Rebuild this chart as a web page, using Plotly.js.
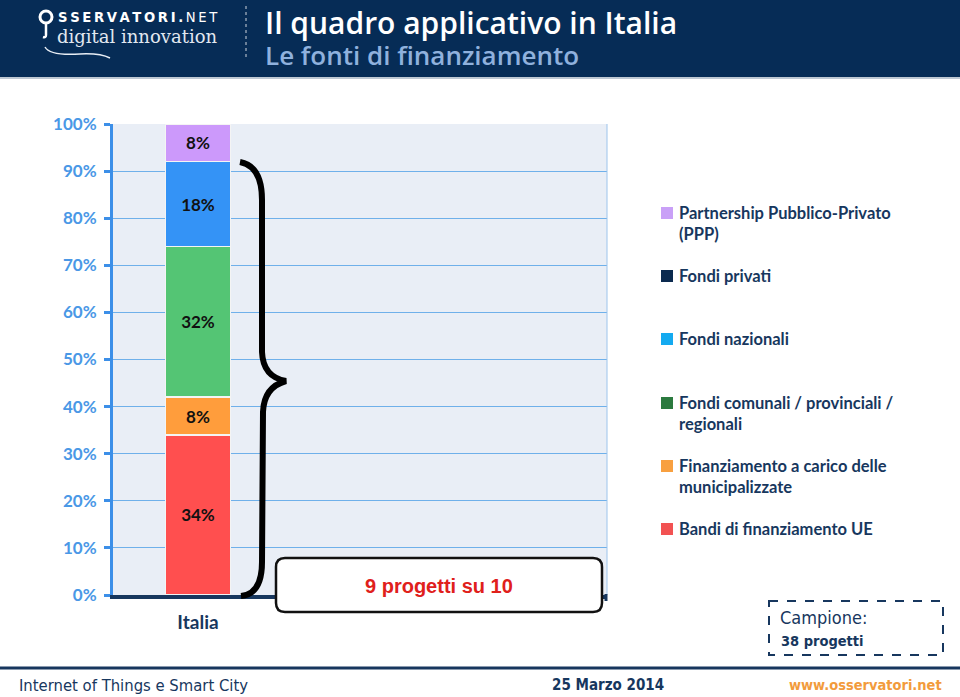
<!DOCTYPE html>
<html>
<head>
<meta charset="utf-8">
<script src="https://cdn.plot.ly/plotly-3.0.1.min.js"></script>
<style>html,body{margin:0;padding:0;background:#fff;}#chart{width:960px;height:697px;}</style>
</head>
<body>
<div id="chart"></div>
<script>
// ---- data ----
const categories = ["Italia"];
const seriesNames = [
  "Bandi di finanziamento UE",
  "Finanziamento a carico delle municipalizzate",
  "Fondi comunali / provinciali / regionali",
  "Fondi nazionali",
  "Fondi privati",
  "Partnership Pubblico-Privato (PPP)"
];
const seriesValues = [34, 8, 32, 18, 0, 8];
const legendLabels = [
  "Partnership Pubblico-Privato<br>(PPP)",
  "Fondi privati",
  "Fondi nazionali",
  "Fondi comunali / provinciali /<br>regionali",
  "Finanziamento a carico delle<br>municipalizzate",
  "Bandi di finanziamento UE"
];
const yTickVals = [0,10,20,30,40,50,60,70,80,90,100];
const yTickText = ["0%","10%","20%","30%","40%","50%","60%","70%","80%","90%","100%"];

// ---- styles ----
const barColors = ["#ff4f4f","#ff9d3c","#54c574","#3493f6","#0b2a4f","#cc99fb"];
const legendColors = ["#c9a0f7","#0b2a4f","#14aaf0","#2b7a3f","#f8a040","#f25252"];
const navy = "#17375e";

// pixel -> paper helpers (plot area 113..607 x 124..595)
const L = 113, R = 607, T = 124, B = 595;
const W = R - L, H = B - T;
const X = px => (px - L) / W;
const Y = py => (B - py) / H;
const P = (px, py) => X(px).toFixed(5) + "," + Y(py).toFixed(5);

const traces = seriesNames.map((name, i) => ({
  type: "bar",
  name: name,
  x: categories,
  y: [seriesValues[i]],
  width: 0.65,
  marker: {color: barColors[i], line: {color: "#f4f4f4", width: 1.5}},
  text: seriesValues[i] > 0 ? [seriesValues[i] + "%"] : [""],
  textposition: "inside",
  insidetextanchor: "middle",
  textangle: 0,
  textfont: {family: "Lato, sans-serif", size: 17, color: "#111", weight: "bold"},
  hoverinfo: "skip",
  showlegend: false
}));

const shapes = [];
const annotations = [];

// header band
shapes.push({type:"rect", xref:"paper", yref:"paper", x0:X(0), x1:X(960), y0:Y(0), y1:Y(77), fillcolor:"#062c56", line:{width:0}, layer:"below"});
shapes.push({type:"line", xref:"paper", yref:"paper", x0:X(0), x1:X(960), y0:Y(78), y1:Y(78), line:{color:"#a9b6c4", width:1.5}});
// dotted separator
shapes.push({type:"line", xref:"paper", yref:"paper", x0:X(246), x1:X(246), y0:Y(6), y1:Y(60), line:{color:"#8c9cb0", width:1.5, dash:"dot"}});
// logo pin
shapes.push({type:"circle", xref:"paper", yref:"paper", x0:X(40), x1:X(52), y0:Y(11), y1:Y(23), line:{color:"#ffffff", width:3}});
shapes.push({type:"path", xref:"paper", yref:"paper", path:"M"+P(46,23)+" L"+P(46,35)+" Q"+P(46,38)+" "+P(43,37), line:{color:"#ffffff", width:2.5}});
shapes.push({type:"path", xref:"paper", yref:"paper", path:"M"+P(45,47)+" Q"+P(50,56)+" "+P(80,54)+" Q"+P(100,53)+" "+P(110,58), line:{color:"#e8eef5", width:1.5}});

const hs = "\u2009";
annotations.push({xref:"paper", yref:"paper", x:X(56), y:Y(17), xanchor:"left", yanchor:"middle", showarrow:false,
  text:"<b>" + "SSERVATORI.".split("").join(hs) + "</b>" + hs + "NET".split("").join(hs),
  font:{family:"DejaVu Sans, sans-serif", size:13.2, color:"#ffffff"}});
annotations.push({xref:"paper", yref:"paper", x:X(55), y:Y(36), xanchor:"left", yanchor:"middle", showarrow:false,
  text:"digital innovation", font:{family:"DejaVu Serif, serif", size:18, color:"#e2e8f0"}});
// title + subtitle in one text block
annotations.push({xref:"paper", yref:"paper", x:X(263), y:Y(0), xanchor:"left", yanchor:"top", align:"left", showarrow:false,
  text:"<span style='font-size:30px;color:#ffffff'>Il quadro applicativo in Italia</span><br>" +
       "<span style='font-size:26px;color:#8fb1dd'>Le fonti di finanziamento</span>",
  font:{family:"Open Sans, sans-serif", size:24, color:"#ffffff", weight:600}});

// plot right border
shapes.push({type:"line", xref:"paper", yref:"paper", x0:1, x1:1, y0:0, y1:1, line:{color:"#9cc4ec", width:1}});
// small tick at right end of x axis
shapes.push({type:"line", xref:"paper", yref:"paper", x0:X(606), x1:X(606), y0:Y(594), y1:Y(601), line:{color:navy, width:3}});

// brace
shapes.push({type:"path", xref:"paper", yref:"paper",
  path:"M"+P(240,162)+" Q"+P(262,166)+" "+P(262,200)+" L"+P(262,352)+" Q"+P(263,377)+" "+P(286,381)+
       " Q"+P(264,387)+" "+P(263,412)+" L"+P(262,562)+" Q"+P(262,594)+" "+P(241,596),
  line:{color:"#000000", width:6}});

// "9 progetti su 10" rounded box
(function(){
  const x0=276,x1=602,y0=558,y1=612,r=9;
  const path = "M"+P(x0+r,y0)+" L"+P(x1-r,y0)+" Q"+P(x1,y0)+" "+P(x1,y0+r)+" L"+P(x1,y1-r)+" Q"+P(x1,y1)+" "+P(x1-r,y1)+
    " L"+P(x0+r,y1)+" Q"+P(x0,y1)+" "+P(x0,y1-r)+" L"+P(x0,y0+r)+" Q"+P(x0,y0)+" "+P(x0+r,y0)+" Z";
  shapes.push({type:"path", xref:"paper", yref:"paper", path:path, fillcolor:"#ffffff", line:{color:"#111111", width:2.5}});
})();
annotations.push({xref:"paper", yref:"paper", x:X(439), y:Y(586), xanchor:"center", yanchor:"middle", showarrow:false,
  text:"<b>9 progetti su 10</b>", font:{family:"Liberation Sans, Arial, sans-serif", size:20, color:"#e0201b"}});

// legend (manual)
const legendY = [213, 276, 339, 403, 466, 529];
legendLabels.forEach((lab, i) => {
  const cy = legendY[i];
  shapes.push({type:"rect", xref:"paper", yref:"paper", x0:X(661), x1:X(673), y0:Y(cy-6), y1:Y(cy+6), fillcolor:legendColors[i], line:{width:0}});
  annotations.push({xref:"paper", yref:"paper", x:X(677), y:Y(cy-12), xanchor:"left", yanchor:"top", align:"left", showarrow:false,
    text:"<b>"+lab+"</b>", font:{family:"Lato, sans-serif", size:16.5, color:navy}});
});

// campione box
shapes.push({type:"rect", xref:"paper", yref:"paper", x0:X(769), x1:X(943), y0:Y(601), y1:Y(655), line:{color:navy, width:2, dash:"dash"}});
annotations.push({xref:"paper", yref:"paper", x:X(778), y:Y(617), xanchor:"left", yanchor:"middle", showarrow:false,
  text:"Campione:", font:{family:"DejaVu Sans Condensed, DejaVu Sans, sans-serif", size:18, color:navy}});
annotations.push({xref:"paper", yref:"paper", x:X(779), y:Y(641), xanchor:"left", yanchor:"middle", showarrow:false,
  text:"<b>38 progetti</b>", font:{family:"DejaVu Sans Condensed, DejaVu Sans, sans-serif", size:14.5, color:navy}});

// footer
shapes.push({type:"line", xref:"paper", yref:"paper", x0:X(0), x1:X(960), y0:Y(668), y1:Y(668), line:{color:navy, width:3}});
annotations.push({xref:"paper", yref:"paper", x:X(17), y:Y(685), xanchor:"left", yanchor:"middle", showarrow:false,
  text:"Internet of Things e Smart City", font:{family:"DejaVu Sans Condensed, DejaVu Sans, sans-serif", size:16.5, color:navy}});
annotations.push({xref:"paper", yref:"paper", x:X(550), y:Y(685), xanchor:"left", yanchor:"middle", showarrow:false,
  text:"<b>25 Marzo 2014</b>", font:{family:"DejaVu Sans Condensed, DejaVu Sans, sans-serif", size:15, color:navy}});
annotations.push({xref:"paper", yref:"paper", x:X(944), y:Y(685), xanchor:"right", yanchor:"middle", showarrow:false,
  text:"<b>www.osservatori.net</b>", font:{family:"DejaVu Sans Condensed, DejaVu Sans, sans-serif", size:14.5, color:"#f29b3c"}});

const layout = {
  width: 960, height: 697,
  margin: {l: L, r: 960 - R, t: T, b: 697 - B, pad: 0},
  paper_bgcolor: "#ffffff",
  plot_bgcolor: "#e9eef6",
  barmode: "stack",
  bargap: 0,
  showlegend: false,
  xaxis: {
    type: "category",
    range: [-0.85, 4.09],
    showgrid: false, zeroline: false,
    showline: true, linecolor: navy, linewidth: 4,
    ticks: "outside", ticklen: 7, tickcolor: "rgba(0,0,0,0)",
    tickfont: {family: "Lato, sans-serif", size: 19, color: navy, weight: "bold"},
    fixedrange: true
  },
  yaxis: {
    range: [0, 100],
    tickvals: yTickVals, ticktext: yTickText,
    showgrid: true, gridcolor: "#6fb0ea", gridwidth: 1,
    zeroline: false,
    showline: true, linecolor: "#3c8fe8", linewidth: 3,
    ticks: "outside", ticklen: 6, tickwidth: 3, tickcolor: "#3c8fe8",
    ticklabelstandoff: 4,
    tickfont: {family: "Lato, sans-serif", size: 17, color: "#4a98e6", weight: "bold"},
    fixedrange: true
  },
  shapes: shapes,
  annotations: annotations
};

Plotly.newPlot("chart", traces, layout, {displayModeBar: false, staticPlot: true});
</script>
</body>
</html>
